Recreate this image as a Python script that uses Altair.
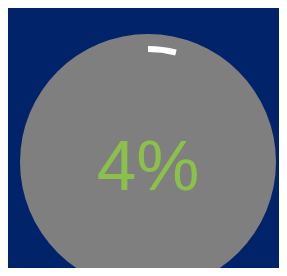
import altair as alt
import pandas as pd

segments = ["done", "rest"]
values = [4, 96]
label = ["4%"]

gauge = pd.DataFrame({"segment": segments, "value": values})
disk = pd.DataFrame({"value": [100]})
txt = pd.DataFrame({"label": label})

W, H = 271, 260
cx, cy = 140, 154

base_disk = alt.Chart(disk).mark_arc(radius=128, color="#7f7f7f").encode(
    theta=alt.Theta("value:Q"),
    x=alt.value(cx), y=alt.value(cy),
)

ring = alt.Chart(gauge).mark_arc(radius=116, radius2=110).encode(
    theta=alt.Theta("value:Q", stack=True, sort=None),
    order=alt.Order("value:Q", sort="ascending"),
    color=alt.Color("segment:N", scale=alt.Scale(domain=segments, range=["#ffffff", "#7f7f7f"]), legend=None),
    x=alt.value(cx), y=alt.value(cy),
)

text = alt.Chart(txt).mark_text(
    fontSize=71, font="Liberation Sans", color="#8bc04a", align="center", baseline="alphabetic"
).encode(
    text="label:N", x=alt.value(cx), y=alt.value(182)
)

chart = alt.layer(base_disk, ring, text).properties(
    width=W, height=H, background="#00236a", padding=0, autosize="none"
).configure_view(stroke=None)

chart.save("out.html", embed_options={"renderer": "svg", "actions": False})
